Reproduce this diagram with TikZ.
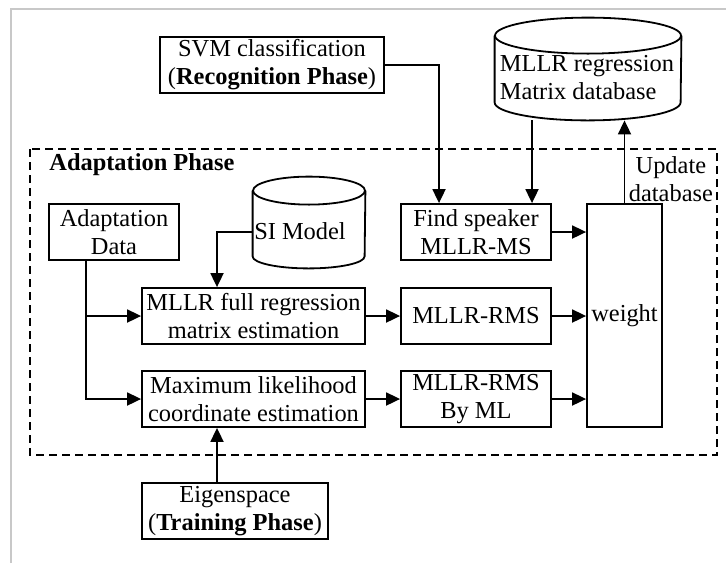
\documentclass[tikz,border=0pt]{standalone}
\usepackage{fontspec}
\setmainfont{Liberation Serif}
\usetikzlibrary{arrows.meta,positioning,calc}
\definecolor{cmarco}{HTML}{C8C8C8}
\tikzset{
  caja/.style={draw,line width=0.9pt,align=center,inner sep=0pt,
               minimum height=28pt,font=\fontsize{12.2}{14}\selectfont},
  hueco/.style={inner sep=0pt},
  borde/.style={line width=0.9pt},
  flecha/.style={-{Triangle[length=7pt,width=6.5pt]},line width=0.9pt},
  grupo/.style={draw,line width=0.8pt,dash pattern=on 4pt off 2.5pt},
  et/.style={font=\fontsize{12.2}{14}\selectfont,inner sep=0pt,align=center},
}
\begin{document}
\begin{tikzpicture}[x=0.5pt,y=-0.5pt]
\useasboundingbox (0,0) rectangle (726,563);
\draw[cmarco,line width=1pt] (11,563) -- (11,9) -- (726,9);

% fuera de la fase de adaptacion
\node[caja,minimum width=112pt] (svm) at (272,65)
  {SVM classification\\(\textbf{Recognition Phase})};

\node[hueco,minimum width=93pt,minimum height=51pt] (db) at (588,69) {};
\draw[borde] ($(db.north)+(0,18)$) ellipse [x radius=46.5pt,y radius=9pt];
\draw[borde] ($(db.north west)+(0,18)$) -- ($(db.south west)+(0,-18)$)
  arc[start angle=180,end angle=360,x radius=46.5pt,y radius=9pt]
  -- ($(db.north east)+(0,18)$);
\node[et,align=left] (dbt) at ($(db.center)+(-1,9)$) {MLLR regression\\Matrix database};

\draw[grupo] (30,149) rectangle (717,455);
\node[et,font=\fontsize{12.2}{14}\selectfont\bfseries,anchor=west] (fase) at (49,165) {Adaptation Phase};

\node[caja,minimum width=65pt] (ad) at (114,232) {Adaptation\\Data};

\node[hueco,minimum width=56pt,minimum height=45.5pt] (si) at (309,222.5) {};
\draw[borde] ($(si.north)+(0,14)$) ellipse [x radius=28pt,y radius=7pt];
\draw[borde] ($(si.north west)+(0,14)$) -- ($(si.south west)+(0,-12)$)
  arc[start angle=180,end angle=360,x radius=28pt,y radius=6pt]
  -- ($(si.north east)+(0,14)$);
\node[et] (sit) at ($(si.center)+(-9,8.5)$) {SI Model};

\node[caja,minimum width=75pt] (fsp) at (476,232) {Find speaker\\MLLR-MS};
\node[caja,minimum width=37.5pt,minimum height=111.5pt] (wt) at (624.5,315.5) {weight};

\node[caja,minimum width=111.5pt] (mf) at (253.5,316) {MLLR full regression\\matrix estimation};
\node[caja,minimum width=75pt] (rms) at (476,316) {MLLR-RMS};
\node[caja,minimum width=111.5pt] (ml) at (253.5,399) {Maximum likelihood\\coordinate estimation};
\node[caja,minimum width=75pt] (rmsml) at (476,399) {MLLR-RMS\\By ML};

\node[caja,minimum width=93pt] (eig) at (235,511) {Eigenspace\\(\textbf{Training Phase})};

\node[et,anchor=south west] (upd) at ($(wt.north)+(4,-1)$) {Update\\database};

\coordinate (adb) at ($(ad.south)+(-28,0)$);
\coordinate (ejex) at ($(mf.north)+(-36.5,0)$);
\coordinate (fspx) at ($(fsp.north)+(56,0)$);

\draw[flecha] (svm.east) -| ($(fsp.north)+(-37,0)$);
\draw[flecha] (db.south -| fspx) -- (fspx);
\draw[flecha] (wt.north) -- (wt.north |- db.south);
\draw[flecha] (si.west |- ad) -| (ejex);
\draw[flecha] (adb) |- (ml.west);
\draw[flecha] (adb |- mf.west) -- (mf.west);
\draw[flecha] (eig.north -| ejex) -- (ml.south -| ejex);
\draw[flecha] (fsp.east) -- (wt.west |- fsp.east);
\draw[flecha] (mf.east) -- (rms.west);
\draw[flecha] (rms.east) -- (wt.west |- rms.east);
\draw[flecha] (ml.east) -- (rmsml.west);
\draw[flecha] (rmsml.east) -- (wt.west |- rmsml.east);

\end{tikzpicture}
\end{document}
